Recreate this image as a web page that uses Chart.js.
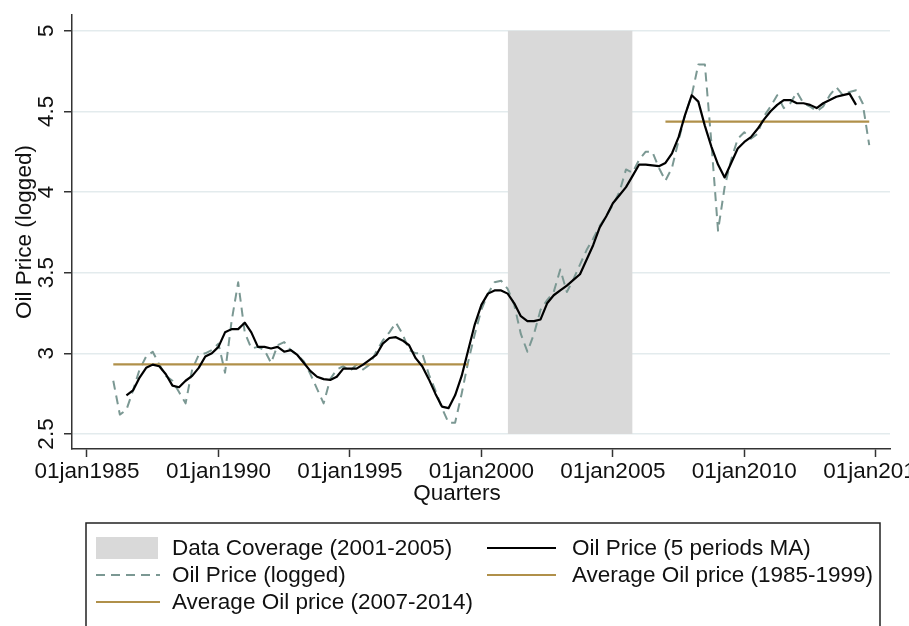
<!DOCTYPE html>
<html>
<head>
<meta charset="utf-8">
<script src="https://cdn.jsdelivr.net/npm/chart.js@4"></script>
<style>
  html, body { margin: 0; padding: 0; background: #fff; overflow: hidden; }
  #wrap { width: 909px; height: 626px; overflow: hidden; position: relative; }
  #chart { position: absolute; left: 0; top: 0; }
</style>
</head>
<body>
<div id="wrap"><canvas id="chart" width="960" height="626"></canvas></div>
<script>
// Data: quarterly, 1986q1 .. 2014q4
const startYear = 1986;
const loggedPrice = [
  2.83, 2.62, 2.65, 2.77, 2.90, 2.98, 3.01, 2.93, 2.86, 2.83, 2.76, 2.69,
  2.90, 2.99, 3.00, 3.02, 3.06, 2.88, 3.20, 3.44, 3.13, 3.03, 3.04, 3.02,
  2.94, 3.05, 3.07, 3.02, 2.99, 2.95, 2.87, 2.78, 2.69, 2.84, 2.90, 2.92,
  2.89, 2.93, 2.90, 2.93, 3.01, 3.08, 3.13, 3.19, 3.12, 3.02, 3.00, 3.00,
  2.87, 2.77, 2.66, 2.57, 2.57, 2.75, 2.95, 3.12, 3.27, 3.37, 3.44, 3.45,
  3.40, 3.30, 3.12, 3.01, 3.12, 3.27, 3.33, 3.38, 3.52, 3.38, 3.46, 3.55,
  3.64, 3.71, 3.79, 3.85, 3.92, 4.00, 4.14, 4.12, 4.20, 4.25, 4.25, 4.15,
  4.07, 4.15, 4.32, 4.48, 4.60, 4.79, 4.79, 4.30, 3.76, 4.03, 4.20, 4.33,
  4.37, 4.33, 4.36, 4.47, 4.53, 4.60, 4.52, 4.55, 4.62, 4.55, 4.53, 4.50,
  4.53, 4.60, 4.65, 4.60, 4.62, 4.63, 4.55, 4.29
];
const maPrice = [
  null, null,
  2.74, 2.77, 2.85, 2.91, 2.93, 2.92, 2.87, 2.80, 2.79, 2.83,
  2.86, 2.91, 2.98, 3.00, 3.04, 3.13, 3.15, 3.15, 3.19, 3.13, 3.04, 3.04,
  3.03, 3.04, 3.01, 3.02, 2.99, 2.94, 2.89, 2.855, 2.84, 2.835, 2.855, 2.905,
  2.905, 2.905, 2.93, 2.96, 2.99, 3.06, 3.095, 3.10, 3.08, 3.05, 2.97, 2.92,
  2.84, 2.75, 2.67, 2.66, 2.74, 2.86, 3.02, 3.18, 3.30, 3.37, 3.39, 3.39,
  3.37, 3.31, 3.23, 3.20, 3.20, 3.21, 3.31, 3.36, 3.39, 3.42, 3.455, 3.49,
  3.58, 3.67, 3.78, 3.85, 3.93, 3.98, 4.03, 4.10, 4.17, 4.17, 4.165, 4.16,
  4.18, 4.24, 4.34, 4.48, 4.60, 4.56, 4.41, 4.28, 4.17, 4.09, 4.18, 4.27,
  4.31, 4.34, 4.39, 4.45, 4.50, 4.54, 4.57, 4.57, 4.55, 4.55, 4.54, 4.52,
  4.55, 4.57, 4.59, 4.60, 4.61, 4.54,
  null, null
];
const avgEarly = 2.932;          // 1985-1999 average
const avgEarlySpan = [1986, 1999.5];
const avgLate = 4.436;           // 2007-2014 average
const avgLateSpan = [2007, 2014.75];
const coverageSpan = [2001, 2005.75];
const coverageRange = [2.5, 5];

const yTicks = [2.5, 3, 3.5, 4, 4.5, 5];
const xTickYears = [1985, 1990, 1995, 2000, 2005, 2010, 2015];

const quarters = loggedPrice.map((_, i) => startYear + i / 4);
const toPoints = arr => arr.map((v, i) => ({ x: quarters[i], y: v }));

const FONT = '"Liberation Sans", Arial, Helvetica, sans-serif';
const FSIZE = 22.5;
const TAN = '#b0904a';
const DASHCOL = '#7b9893';

const legendOrder = [
    'Data Coverage (2001-2005)',
    'Oil Price (5 periods MA)',
    'Oil Price (logged)',
    'Average Oil price (1985-1999)',
    'Average Oil price (2007-2014)'
];

// Draws y tick labels, axis titles and the boxed legend
const stataText = {
    id: 'stataText',
    afterDraw(chart) {
        const ctx = chart.ctx;
        const y = chart.scales.y;
        const area = chart.chartArea;
        ctx.save();
        ctx.fillStyle = '#111';
        ctx.font = FSIZE + 'px ' + FONT;
        ctx.textAlign = 'center';
        ctx.textBaseline = 'alphabetic';

        yTicks.forEach(v => {
            ctx.save();
            ctx.translate(53, y.getPixelForValue(v));
            ctx.rotate(-Math.PI / 2);
            ctx.fillText(String(v), 0, 0);
            ctx.restore();
        });

        ctx.save();
        ctx.translate(31, (area.top + area.bottom) / 2);
        ctx.rotate(-Math.PI / 2);
        ctx.fillText('Oil Price (logged)', 0, 0);
        ctx.restore();

        ctx.fillText('Quarters', 457, 500);

        // legend
        const box = { left: 86, top: 523, right: 880, bottom: 640 };
        ctx.strokeStyle = '#222';
        ctx.lineWidth = 1.5;
        ctx.strokeRect(box.left, box.top, box.right - box.left, box.bottom - box.top);
        ctx.beginPath();
        ctx.rect(box.left, box.top, box.right - box.left - 1, box.bottom - box.top);
        ctx.clip();

        const colSym = [96, 487];
        const colText = [172, 572];
        const rowY = [548, 575, 602];
        const symW = 64;
        ctx.textAlign = 'left';
        ctx.textBaseline = 'middle';
        legendOrder.forEach((label, k) => {
            const ds = chart.data.datasets.find(d => d.label === label);
            const c = k % 2, r = Math.floor(k / 2);
            const x0 = colSym[c], cy = rowY[r];
            if (ds.fill) {
                ctx.fillStyle = ds.backgroundColor;
                ctx.fillRect(x0, cy - 11, symW - 2, 22);
            } else {
                ctx.beginPath();
                ctx.strokeStyle = ds.borderColor;
                ctx.lineWidth = ds.borderWidth;
                ctx.setLineDash(ds.borderDash || []);
                ctx.moveTo(x0, cy);
                ctx.lineTo(x0 + symW + (c ? 5 : 0), cy);
                ctx.stroke();
                ctx.setLineDash([]);
            }
            ctx.fillStyle = '#111';
            ctx.fillText(label, colText[c], cy + 1);
        });
        ctx.restore();
    }
};

new Chart(document.getElementById('chart').getContext('2d'), {
    type: 'line',
    data: {
        datasets: [
            {
                label: 'Oil Price (5 periods MA)',
                data: toPoints(maPrice),
                borderColor: '#000',
                borderWidth: 2.2,
                order: 0
            },
            {
                label: 'Average Oil price (1985-1999)',
                data: avgEarlySpan.map(x => ({ x: x, y: avgEarly })),
                borderColor: TAN,
                borderWidth: 2.2,
                order: 1
            },
            {
                label: 'Average Oil price (2007-2014)',
                data: avgLateSpan.map(x => ({ x: x, y: avgLate })),
                borderColor: TAN,
                borderWidth: 2.2,
                order: 1
            },
            {
                label: 'Oil Price (logged)',
                data: toPoints(loggedPrice),
                borderColor: DASHCOL,
                borderWidth: 2,
                borderDash: [9, 6],
                order: 2
            },
            {
                label: 'Data Coverage (2001-2005)',
                data: coverageSpan.map(x => ({ x: x, y: coverageRange[1] })),
                borderColor: 'rgba(0,0,0,0)',
                borderWidth: 0,
                backgroundColor: '#d9d9d9',
                fill: { value: coverageRange[0] },
                order: 3
            }
        ]
    },
    options: {
        responsive: false,
        animation: false,
        devicePixelRatio: 1,
        parsing: false,
        elements: {
            point: { radius: 0, hoverRadius: 0 },
            line: { tension: 0, borderJoinStyle: 'round', fill: false }
        },
        layout: { padding: { left: 0, top: 15, right: 70, bottom: 0 } },
        plugins: {
            legend: { display: false },
            tooltip: { enabled: false },
            title: { display: false }
        },
        scales: {
            x: {
                type: 'linear',
                min: 1984.43,
                max: 2015.54,
                afterBuildTicks: s => { s.ticks = xTickYears.map(v => ({ value: v })); },
                afterFit: s => { s.height = 626 - 449; },
                ticks: {
                    callback: v => '01jan' + v,
                    autoSkip: false,
                    maxRotation: 0,
                    minRotation: 0,
                    padding: 1,
                    color: '#111',
                    font: { family: FONT, size: FSIZE }
                },
                grid: {
                    drawOnChartArea: false,
                    drawTicks: true,
                    tickLength: 8,
                    tickColor: '#333',
                    tickWidth: 1.5
                },
                border: { color: '#333', width: 1.5 }
            },
            y: {
                type: 'linear',
                min: 2.407,
                max: 5.097,
                afterBuildTicks: s => { s.ticks = yTicks.map(v => ({ value: v })); },
                afterFit: s => { s.width = 72; },
                ticks: { display: false },
                grid: {
                    color: '#e3ebed',
                    lineWidth: 1.5,
                    drawTicks: true,
                    tickLength: 8,
                    tickColor: '#333',
                    tickWidth: 1.5
                },
                border: { color: '#333', width: 1.5 }
            }
        }
    },
    plugins: [stataText]
});
</script>
</body>
</html>
